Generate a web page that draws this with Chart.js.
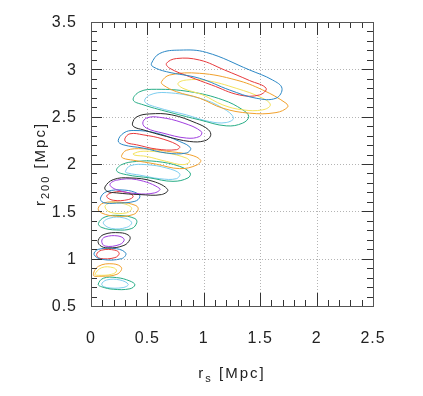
<!DOCTYPE html>
<html>
<head>
<meta charset="utf-8">
<script src="https://cdn.jsdelivr.net/npm/chart.js@4"></script>
<style>
  html, body { margin: 0; padding: 0; background: #fff; }
  canvas { display: block; }
</style>
</head>
<body>
<canvas id="mychart" width="423" height="396" style="width:423px;height:396px"></canvas>
<script>
// contour outlines, [rs, r200] in Mpc
// clusters listed from top to bottom, outer = 2 sigma, inner = 1 sigma
const outer1 = [[0.536,3.063],[0.610,3.168],[0.786,3.203],[1.022,3.179],[1.406,2.993],[1.610,2.887],[1.693,2.800],[1.640,2.695],[1.464,2.695],[1.228,2.782],[0.963,2.905],[0.669,2.975],[0.550,3.027]];
const inner1 = [[0.669,3.063],[0.757,3.114],[0.963,3.098],[1.184,2.993],[1.405,2.882],[1.552,2.800],[1.493,2.729],[1.316,2.729],[1.069,2.835],[0.874,2.922],[0.698,3.011]];
const outer2 = [[0.625,2.869],[0.698,2.940],[0.963,2.958],[1.287,2.887],[1.522,2.782],[1.729,2.642],[1.743,2.600],[1.640,2.543],[1.405,2.537],[1.169,2.589],[0.963,2.695],[0.757,2.764],[0.639,2.835]];
const inner2 = [[0.771,2.851],[0.845,2.887],[1.022,2.882],[1.287,2.800],[1.522,2.695],[1.590,2.624],[1.522,2.572],[1.345,2.572],[1.169,2.624],[0.992,2.729],[0.815,2.800]];
const outer3 = [[0.374,2.677],[0.433,2.764],[0.580,2.789],[0.875,2.764],[1.169,2.677],[1.345,2.572],[1.398,2.501],[1.345,2.432],[1.199,2.403],[0.963,2.466],[0.727,2.537],[0.462,2.626]];
const inner3 = [[0.477,2.659],[0.521,2.729],[0.669,2.754],[0.963,2.695],[1.169,2.589],[1.263,2.487],[1.199,2.438],[1.051,2.448],[0.845,2.519],[0.580,2.600]];
const outer4 = [[0.368,2.432],[0.406,2.498],[0.521,2.529],[0.716,2.519],[0.934,2.432],[1.042,2.361],[1.060,2.298],[1.007,2.245],[0.875,2.238],[0.669,2.291],[0.462,2.361],[0.380,2.393]];
const inner4 = [[0.459,2.432],[0.495,2.487],[0.610,2.493],[0.815,2.435],[0.978,2.343],[0.963,2.291],[0.845,2.274],[0.639,2.326],[0.492,2.379]];
const outer5 = [[0.241,2.245],[0.292,2.329],[0.380,2.354],[0.580,2.326],[0.786,2.238],[0.883,2.168],[0.845,2.116],[0.669,2.116],[0.462,2.168],[0.285,2.203]];
const inner5 = [[0.300,2.266],[0.345,2.319],[0.462,2.308],[0.639,2.263],[0.786,2.185],[0.757,2.151],[0.580,2.158],[0.404,2.203],[0.315,2.227]];
const outer6 = [[0.271,2.087],[0.315,2.145],[0.462,2.161],[0.669,2.135],[0.875,2.098],[0.972,2.040],[0.934,1.987],[0.786,1.951],[0.580,1.998],[0.374,2.040],[0.285,2.061]];
const inner6 = [[0.374,2.108],[0.462,2.135],[0.669,2.116],[0.845,2.063],[0.875,2.024],[0.815,1.993],[0.669,2.027],[0.492,2.080],[0.389,2.093]];
const outer7 = [[0.227,1.929],[0.271,1.993],[0.404,2.027],[0.580,2.027],[0.786,1.975],[0.879,1.905],[0.860,1.853],[0.727,1.817],[0.521,1.853],[0.315,1.887]];
const inner7 = [[0.305,1.919],[0.349,1.982],[0.492,1.993],[0.669,1.958],[0.786,1.898],[0.757,1.845],[0.610,1.845],[0.433,1.882],[0.330,1.903]];
const outer8 = [[0.124,1.758],[0.197,1.835],[0.345,1.853],[0.550,1.817],[0.680,1.729],[0.625,1.677],[0.433,1.677],[0.227,1.695],[0.139,1.714]];
const inner8 = [[0.168,1.782],[0.227,1.829],[0.404,1.835],[0.610,1.740],[0.565,1.695],[0.404,1.687],[0.227,1.729]];
const outer9 = [[0.084,1.640],[0.139,1.708],[0.300,1.724],[0.415,1.687],[0.433,1.651],[0.389,1.606],[0.227,1.587],[0.109,1.593]];
const inner9 = [[0.139,1.659],[0.197,1.701],[0.315,1.701],[0.374,1.659],[0.330,1.624],[0.197,1.617]];
const outer10 = [[0.064,1.529],[0.109,1.587],[0.256,1.596],[0.398,1.561],[0.418,1.519],[0.374,1.466],[0.227,1.448],[0.095,1.482]];
const inner10 = [[0.124,1.551],[0.168,1.587],[0.285,1.582],[0.360,1.535],[0.315,1.484],[0.168,1.491]];
const outer11 = [[0.066,1.372],[0.124,1.440],[0.256,1.456],[0.389,1.424],[0.406,1.382],[0.362,1.319],[0.227,1.303],[0.097,1.329]];
const inner11 = [[0.109,1.377],[0.168,1.429],[0.285,1.432],[0.360,1.382],[0.315,1.330],[0.183,1.319]];
const outer12 = [[0.064,1.193],[0.115,1.256],[0.256,1.274],[0.336,1.245],[0.345,1.203],[0.292,1.140],[0.150,1.113],[0.080,1.140]];
const inner12 = [[0.095,1.185],[0.124,1.229],[0.239,1.240],[0.294,1.203],[0.256,1.150],[0.124,1.133]];
const outer13 = [[0.027,1.045],[0.064,1.098],[0.227,1.105],[0.309,1.056],[0.271,1.000],[0.095,0.993]];
const inner13 = [[0.050,1.045],[0.095,1.090],[0.212,1.090],[0.250,1.056],[0.212,1.011],[0.080,1.003]];
const outer14 = [[0.022,0.824],[0.066,0.919],[0.197,0.945],[0.271,0.903],[0.230,0.835],[0.088,0.814]];
const inner14 = [[0.035,0.835],[0.095,0.905],[0.197,0.905],[0.227,0.870],[0.183,0.835],[0.064,0.824]];
const outer15 = [[0.064,0.729],[0.109,0.793],[0.227,0.800],[0.345,0.764],[0.389,0.724],[0.345,0.682],[0.197,0.677],[0.095,0.703]];
const inner15 = [[0.095,0.729],[0.139,0.775],[0.256,0.775],[0.330,0.729],[0.285,0.695],[0.139,0.695]];

const outers = [outer1, outer2, outer3, outer4, outer5, outer6, outer7, outer8, outer9, outer10, outer11, outer12, outer13, outer14, outer15];
const inners = [inner1, inner2, inner3, inner4, inner5, inner6, inner7, inner8, inner9, inner10, inner11, inner12, inner13, inner14, inner15];

// colours repeat every 4 clusters
const outerColors = ["#2b88c6", "#f2a12c", "#27ad86", "#2a2a2a"];
const innerColors = ["#e8393c", "#f5e35c", "#7ccdf0", "#a13fe0"];

const xTickLabels = ["0", "0.5", "1", "1.5", "2", "2.5"];
const yTickLabels = ["0.5", "1", "1.5", "2", "2.5", "3", "3.5"];

// build datasets
let datasets = [];
for (var i = 0; i < outers.length; i++) {
    datasets.push({
        data: outers[i].map(p => ({x: p[0], y: p[1]})),
        borderColor: outerColors[i % 4]
    });
    datasets.push({
        data: inners[i].map(p => ({x: p[0], y: p[1]})),
        borderColor: innerColors[i % 4]
    });
}
datasets.forEach(d => {
    d.showLine = true;
    d.borderWidth = 1;
    d.pointRadius = 0;
    d.tension = 0.4;
    d.fill = false;
});

// make each outline a closed smooth loop
const closeLoops = {
    id: 'closeLoops',
    afterDatasetUpdate(chart, args) {
        const line = args.meta.dataset;
        if (line) {
            line._loop = true;
            line._fullLoop = true;
            line._segments = undefined;
            line._path = undefined;
            line._pointsUpdated = false;
        }
    }
};

const fontName = '"Liberation Sans", Arial, sans-serif';

// grid, frame, ticks and labels
const frame = {
    id: 'frame',
    beforeDraw(chart) {
        const ctx = chart.ctx;
        ctx.save();
        ctx.fillStyle = '#fff';
        ctx.fillRect(0, 0, chart.width, chart.height);
        ctx.restore();
    },
    beforeDatasetsDraw(chart) {
        const {ctx, chartArea: a, scales: {x, y}} = chart;
        ctx.save();
        ctx.strokeStyle = '#b4b4b4';
        ctx.lineWidth = 1;
        ctx.setLineDash([1, 2]);
        xTickLabels.forEach(t => {
            const v = parseFloat(t);
            if (v <= x.min || v >= x.max) return;
            const px = Math.round(x.getPixelForValue(v)) + 0.5;
            ctx.beginPath(); ctx.moveTo(px, a.top); ctx.lineTo(px, a.bottom); ctx.stroke();
        });
        yTickLabels.forEach(t => {
            const v = parseFloat(t);
            if (v <= y.min || v >= y.max) return;
            const py = Math.round(y.getPixelForValue(v)) + 0.5;
            ctx.beginPath(); ctx.moveTo(a.left, py); ctx.lineTo(a.right, py); ctx.stroke();
        });
        ctx.restore();
    },
    afterDraw(chart) {
        const {ctx, chartArea: a, scales: {x, y}} = chart;
        ctx.save();
        ctx.lineWidth = 1;
        ctx.strokeStyle = '#333';

        // minor ticks every 0.1, major every 0.5
        for (var k = 0; k <= 25; k++) {
            const px = Math.round(x.getPixelForValue(k / 10)) + 0.5;
            const len = (k % 5 == 0) ? 13 : 6;
            ctx.beginPath();
            ctx.moveTo(px, a.bottom); ctx.lineTo(px, a.bottom - len);
            ctx.moveTo(px, a.top); ctx.lineTo(px, a.top + len);
            ctx.stroke();
        }
        for (var k = 5; k <= 35; k++) {
            const py = Math.round(y.getPixelForValue(k / 10)) + 0.5;
            const len = (k % 5 == 0) ? 11 : 6;
            ctx.beginPath();
            ctx.moveTo(a.left, py); ctx.lineTo(a.left + len, py);
            ctx.moveTo(a.right, py); ctx.lineTo(a.right - len, py);
            ctx.stroke();
        }
        ctx.strokeStyle = '#555';
        ctx.strokeRect(Math.round(a.left) + 0.5, Math.round(a.top) + 0.5, Math.round(a.right - a.left), Math.round(a.bottom - a.top));

        // tick labels
        ctx.fillStyle = '#222';
        ctx.font = '16px ' + fontName;
        ctx.letterSpacing = '1px';
        ctx.textAlign = 'center';
        ctx.textBaseline = 'alphabetic';
        xTickLabels.forEach(t => {
            ctx.fillText(t, x.getPixelForValue(parseFloat(t)), 343);
        });
        ctx.textAlign = 'right';
        ctx.textBaseline = 'middle';
        yTickLabels.forEach(t => {
            ctx.fillText(t, 77, y.getPixelForValue(parseFloat(t)) + 1);
        });

        // axis titles with subscripts
        ctx.letterSpacing = '2px';
        ctx.textBaseline = 'alphabetic';
        ctx.textAlign = 'left';
        const drawTitle = (main, sub, rest, cx, base) => {
            ctx.font = '15px ' + fontName;
            const w1 = ctx.measureText(main).width;
            const w3 = ctx.measureText(rest).width;
            ctx.font = '11px ' + fontName;
            const w2 = ctx.measureText(sub).width;
            let sx = cx - (w1 + w2 + w3) / 2;
            ctx.font = '15px ' + fontName;
            ctx.fillText(main, sx, base);
            ctx.font = '11px ' + fontName;
            ctx.fillText(sub, sx + w1, base + 4);
            ctx.font = '15px ' + fontName;
            ctx.fillText(rest, sx + w1 + w2, base);
        };
        const midX = (a.left + a.right) / 2;
        const midY = (a.top + a.bottom) / 2;
        drawTitle('r', 's', ' [Mpc]', midX, 378);

        ctx.translate(45, midY);
        ctx.rotate(-Math.PI / 2);
        drawTitle('r', '200', ' [Mpc]', 0, 0);
        ctx.restore();
    }
};

var ctx = document.getElementById("mychart").getContext('2d');
var chart = new Chart(ctx, {
    type: 'scatter',
    data: { datasets: datasets },
    options: {
        responsive: false,
        animation: false,
        layout: { padding: { left: 91, right: 50, top: 22, bottom: 90 } },
        scales: {
            x: { type: 'linear', min: 0, max: 2.5, display: false },
            y: { type: 'linear', min: 0.5, max: 3.5, display: false }
        },
        plugins: {
            legend: { display: false },
            tooltip: { enabled: false }
        }
    },
    plugins: [closeLoops, frame]
});
</script>
</body>
</html>
